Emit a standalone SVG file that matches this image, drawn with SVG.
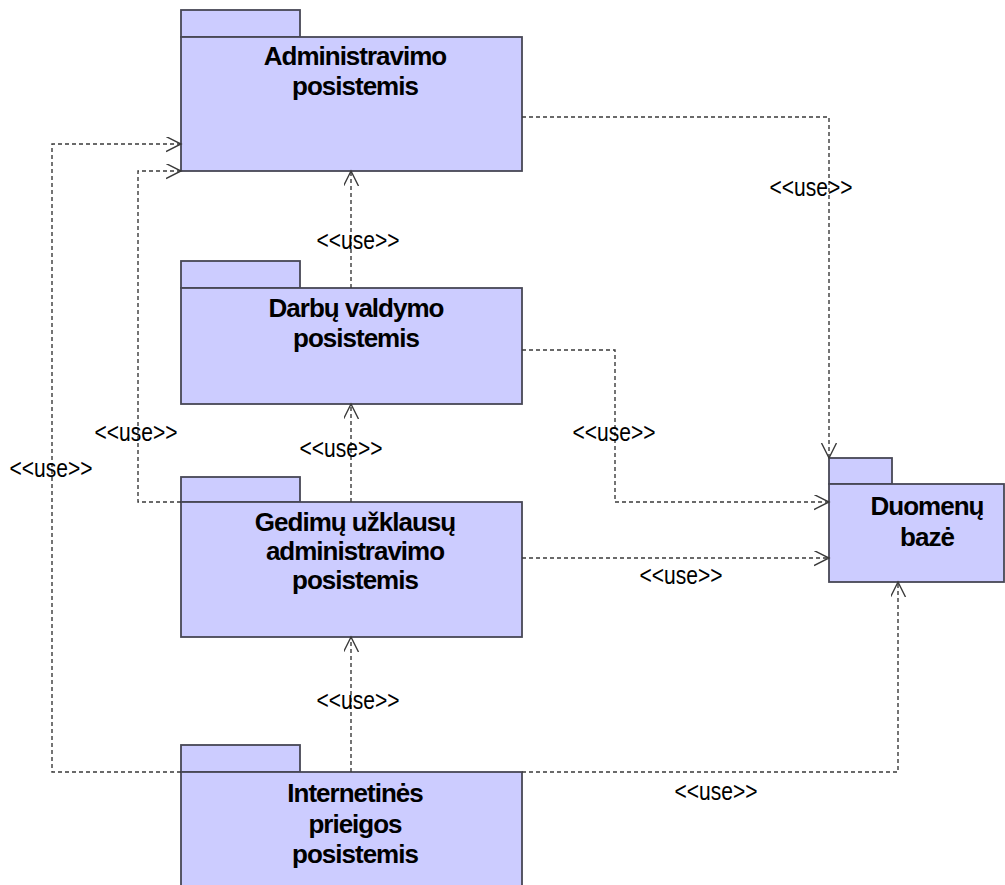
<svg xmlns="http://www.w3.org/2000/svg" width="1005" height="885" viewBox="0 0 1005 885">
  <style>
    .pkg { fill: #ccccff; stroke: #474755; stroke-width: 1.8; }
    .title { font-family: "Liberation Sans", Arial, sans-serif; font-weight: bold; font-size: 26px; letter-spacing: -1px; fill: #000; text-anchor: middle; }
    .dep { fill: none; stroke: #3a3a3a; stroke-width: 1.4; stroke-dasharray: 4 3; marker-end: url(#open); }
    .lbl { font-family: "Liberation Sans", Arial, sans-serif; font-size: 25px; fill: #000; text-anchor: middle; }
  </style>
  <defs>
    <marker id="open" markerUnits="userSpaceOnUse" markerWidth="18" markerHeight="18" refX="15" refY="7.5" orient="auto">
      <path d="M0,0 L15,7.5 L0,15" fill="none" stroke="#3a3a3a" stroke-width="1.4" stroke-dasharray="none"/>
    </marker>
  </defs>
  <rect width="1005" height="885" fill="#ffffff"/>

  <!-- packages -->
  <g id="administravimo">
    <rect class="pkg" x="181" y="10" width="119" height="27"/>
    <rect class="pkg" x="181" y="37" width="341" height="134"/>
    <text class="title" x="355" y="65">Administravimo</text>
    <text class="title" x="355" y="95">posistemis</text>
  </g>
  <g id="darbu-valdymo">
    <rect class="pkg" x="181" y="261" width="119" height="27"/>
    <rect class="pkg" x="181" y="288" width="341" height="116"/>
    <text class="title" x="356" y="317">Darbų valdymo</text>
    <text class="title" x="356" y="347">posistemis</text>
  </g>
  <g id="gedimu-uzklausu">
    <rect class="pkg" x="181" y="477" width="119" height="25"/>
    <rect class="pkg" x="181" y="502" width="341" height="135"/>
    <text class="title" x="355" y="531">Gedimų užklausų</text>
    <text class="title" x="355" y="560">administravimo</text>
    <text class="title" x="355" y="589">posistemis</text>
  </g>
  <g id="internetines-prieigos">
    <rect class="pkg" x="181" y="745" width="119" height="27"/>
    <rect class="pkg" x="181" y="772" width="341" height="125"/>
    <text class="title" x="355" y="802">Internetinės</text>
    <text class="title" x="355" y="833">prieigos</text>
    <text class="title" x="355" y="863">posistemis</text>
  </g>
  <g id="duomenu-baze">
    <rect class="pkg" x="829" y="458" width="63" height="26"/>
    <rect class="pkg" x="829" y="484" width="175" height="98"/>
    <text class="title" x="927" y="515">Duomenų</text>
    <text class="title" x="927" y="546">bazė</text>
  </g>

  <!-- dependencies -->
  <g id="connectors">
    <path class="dep" d="M522,117 H829 V458"/>
    <path class="dep" d="M351,288 V171"/>
    <path class="dep" d="M351,502 V404"/>
    <path class="dep" d="M181,502 H138 V171 H181"/>
    <path class="dep" d="M181,772 H52 V144 H181"/>
    <path class="dep" d="M351,772 V637"/>
    <path class="dep" d="M522,772 H898 V582"/>
    <path class="dep" d="M522,350 H615 V502 H829"/>
    <path class="dep" d="M522,558 H829"/>

    <text class="lbl" x="811" y="196" textLength="83" lengthAdjust="spacingAndGlyphs">&lt;&lt;use&gt;&gt;</text>
    <text class="lbl" x="358" y="249" textLength="83" lengthAdjust="spacingAndGlyphs">&lt;&lt;use&gt;&gt;</text>
    <text class="lbl" x="341" y="457" textLength="83" lengthAdjust="spacingAndGlyphs">&lt;&lt;use&gt;&gt;</text>
    <text class="lbl" x="136" y="441" textLength="83" lengthAdjust="spacingAndGlyphs">&lt;&lt;use&gt;&gt;</text>
    <text class="lbl" x="51" y="477" textLength="83" lengthAdjust="spacingAndGlyphs">&lt;&lt;use&gt;&gt;</text>
    <text class="lbl" x="614" y="441" textLength="83" lengthAdjust="spacingAndGlyphs">&lt;&lt;use&gt;&gt;</text>
    <text class="lbl" x="681" y="584" textLength="83" lengthAdjust="spacingAndGlyphs">&lt;&lt;use&gt;&gt;</text>
    <text class="lbl" x="358" y="709" textLength="83" lengthAdjust="spacingAndGlyphs">&lt;&lt;use&gt;&gt;</text>
    <text class="lbl" x="716" y="800" textLength="83" lengthAdjust="spacingAndGlyphs">&lt;&lt;use&gt;&gt;</text>
  </g>
</svg>
